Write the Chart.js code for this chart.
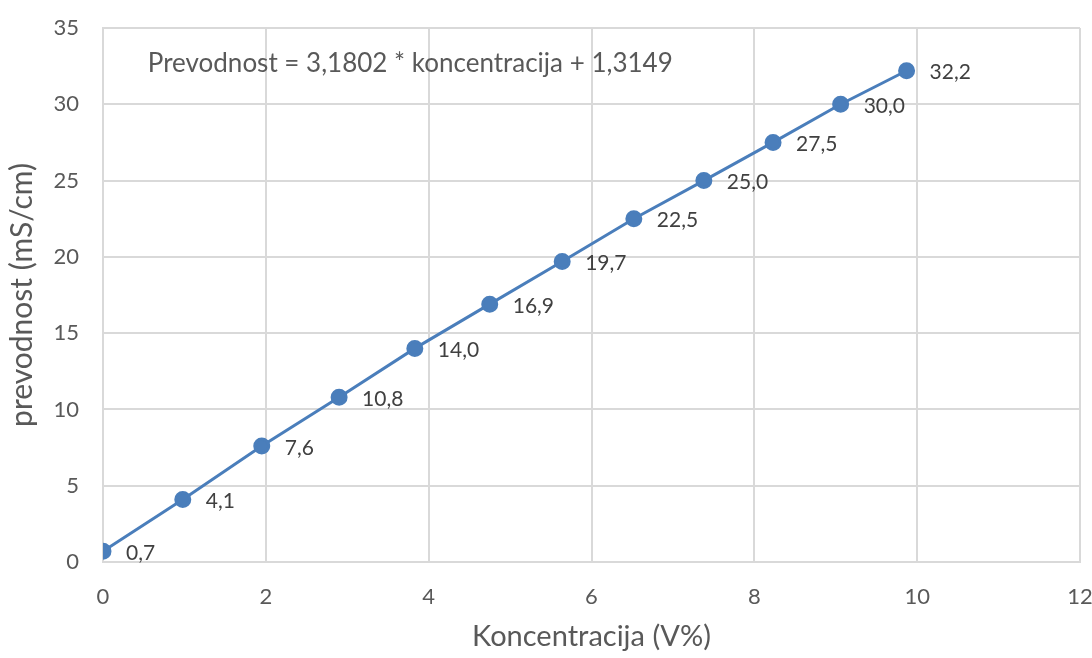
<!DOCTYPE html>
<html>
<head>
<meta charset="utf-8">
<script src="https://cdn.jsdelivr.net/npm/chart.js@4"></script>
<style>
  html, body { margin: 0; padding: 0; background: #fff; }
  #wrap { width: 1092px; height: 658px; }
</style>
</head>
<body>
<div id="wrap"><canvas id="chart" width="1092" height="658"></canvas></div>
<script>
const koncentracija = [0, 0.98, 1.95, 2.9, 3.83, 4.75, 5.64, 6.52, 7.38, 8.23, 9.06, 9.87];
const prevodnost = [0.7, 4.1, 7.6, 10.8, 14.0, 16.9, 19.7, 22.5, 25.0, 27.5, 30.0, 32.2];
const equationText = "Prevodnost = 3,1802 * koncentracija + 1,3149";

const textColor = "#595959";
const gridColor = "#d9d9d9";
const blue = "#4a7ebb";
const fontFamily = "Lato, 'Open Sans', sans-serif";

const points = koncentracija.map((x, i) => ({ x: x, y: prevodnost[i] }));

// data labels to the right of each point + equation text
const labelsPlugin = {
  id: "labels",
  afterDatasetsDraw(chart) {
    const ctx = chart.ctx;
    const meta = chart.getDatasetMeta(0);
    ctx.save();
    ctx.font = "21px " + fontFamily;
    ctx.fillStyle = "#404040";
    ctx.textAlign = "left";
    ctx.textBaseline = "middle";
    meta.data.forEach((pt, i) => {
      ctx.fillText(prevodnost[i].toFixed(1).replace(".", ","), pt.x + 23, pt.y + 2);
    });
    const xs = chart.scales.x, ys = chart.scales.y;
    ctx.font = "26px " + fontFamily;
    ctx.fillStyle = textColor;
    ctx.textBaseline = "alphabetic";
    ctx.fillText(equationText, xs.getPixelForValue(0.55), ys.getPixelForValue(32.1));
    ctx.restore();
  }
};

new Chart(document.getElementById("chart"), {
  type: "scatter",
  data: {
    datasets: [
      {
        data: points,
        showLine: true,
        borderColor: blue,
        borderWidth: 3,
        backgroundColor: blue,
        pointRadius: 7,
        pointHoverRadius: 7,
      },
    ],
  },
  options: {
    responsive: false,
    animation: false,
    layout: {
      padding: { top: 28, right: 12, left: 0, bottom: 0 },
    },
    plugins: {
      legend: { display: false },
      tooltip: { enabled: false },
    },
    scales: {
      x: {
        type: "linear",
        min: 0,
        max: 12,
        ticks: {
          stepSize: 2,
          color: textColor,
          font: { family: fontFamily, size: 22 },
          padding: 22,
        },
        grid: { color: gridColor, lineWidth: 2, drawTicks: false },
        border: { color: gridColor, width: 2 },
        title: {
          display: true,
          text: "Koncentracija (V%)",
          color: textColor,
          font: { family: fontFamily, size: 29 },
          padding: { top: 6 },
        },
        afterFit: function(scale) {
          scale.height = 96;
          scale.paddingLeft = 0;
          scale.paddingRight = 0;
        },
      },
      y: {
        min: 0,
        max: 35,
        ticks: {
          stepSize: 5,
          color: textColor,
          font: { family: fontFamily, size: 22 },
          padding: 24,
        },
        grid: { color: gridColor, lineWidth: 2, drawTicks: false },
        border: { color: gridColor, width: 2 },
        title: {
          display: true,
          text: "prevodnost (mS/cm)",
          color: textColor,
          font: { family: fontFamily, size: 30 },
          padding: { bottom: 2 },
        },
        afterFit: function(scale) {
          scale.width = 103;
          scale.paddingTop = 0;
          scale.paddingBottom = 0;
        },
      },
    },
  },
  plugins: [labelsPlugin],
});
</script>
</body>
</html>
